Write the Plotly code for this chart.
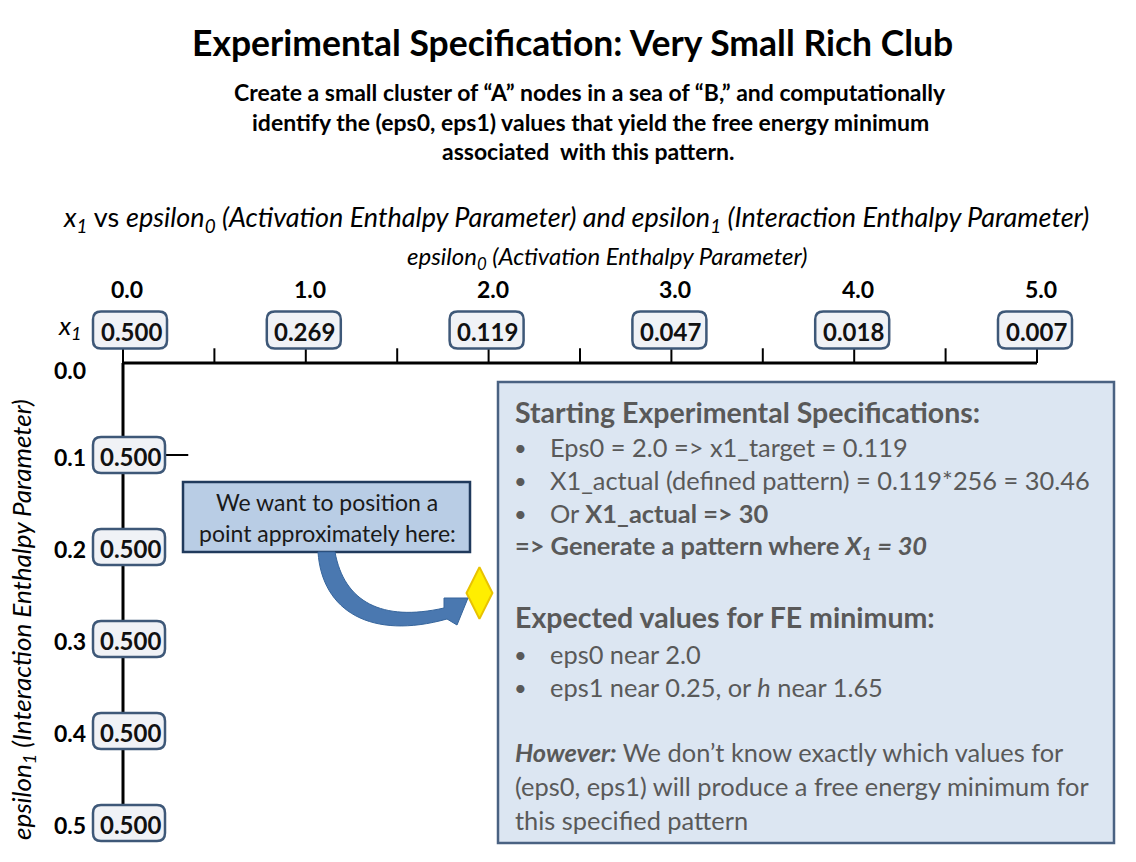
import plotly.graph_objects as go

# data
eps0_ticks = [0.0, 1.0, 2.0, 3.0, 4.0, 5.0]
x1_at_eps0 = [0.500, 0.269, 0.119, 0.047, 0.018, 0.007]
eps0_minor = [0.5, 1.5, 2.5, 3.5, 4.5]
eps1_ticks = [0.0, 0.1, 0.2, 0.3, 0.4, 0.5]
eps1_boxes = [0.1, 0.2, 0.3, 0.4, 0.5]
x1_at_eps1 = [0.500, 0.500, 0.500, 0.500, 0.500]
target_eps0 = [1.95]
target_eps1 = [0.25]

# canvas / scale set-up (pixels)
W, H = 1136, 862
X0_PX, X_SCALE = 123, 182.8   # eps0 = 0 at x pixel 123
Y0_PX, Y_SCALE = 363, 920     # eps1 = 0 at y pixel 363 (downwards)

FONT = "Lato"
BOX_LINE = "#3e5878"
BOX_FILL = "#f0f2f6"
GREY = "#595959"


def px(x):
    return x / W


def py(y):
    return 1 - y / H


def rrect(cx, cy, w, h, r):
    x0, x1 = cx - w / 2, cx + w / 2
    y0, y1 = cy - h / 2, cy + h / 2
    return (f"M {x0 + r},{y0} L {x1 - r},{y0} Q {x1},{y0} {x1},{y0 + r} "
            f"L {x1},{y1 - r} Q {x1},{y1} {x1 - r},{y1} L {x0 + r},{y1} "
            f"Q {x0},{y1} {x0},{y1 - r} L {x0},{y0 + r} Q {x0},{y0} {x0 + r},{y0} Z")


def text(x, y, s, size, color="black", xanchor="center", **kw):
    d = dict(x=px(x), y=py(y), xref="paper", yref="paper", text=s, showarrow=False,
             xanchor=xanchor, yanchor="middle", font=dict(family=FONT, size=size, color=color))
    d.update(kw)
    return d


fig = go.Figure()

# horizontal epsilon0 axis
fig.add_trace(go.Scatter(x=[eps0_ticks[0], eps0_ticks[-1]], y=[0, 0], mode="lines",
                         line=dict(color="black", width=3), hoverinfo="skip", showlegend=False))
tx, ty = [], []
for v in eps0_ticks + eps0_minor:
    tx += [v, v, None]
    ty += [0, -0.016, None]
fig.add_trace(go.Scatter(x=tx, y=ty, mode="lines", line=dict(color="black", width=2),
                         hoverinfo="skip", showlegend=False))

# vertical epsilon1 axis
fig.add_trace(go.Scatter(x=[0, 0], y=[eps1_ticks[0], eps1_ticks[-1]], mode="lines",
                         line=dict(color="black", width=3), hoverinfo="skip", showlegend=False))
fig.add_trace(go.Scatter(x=[0, 0.357], y=[eps1_boxes[0], eps1_boxes[0]], mode="lines",
                         line=dict(color="black", width=2), hoverinfo="skip", showlegend=False))

# target point
fig.add_trace(go.Scatter(x=target_eps0, y=target_eps1, mode="markers",
                         marker=dict(symbol="diamond-tall", size=37, color="#ffee00",
                                     line=dict(color="#e8c200", width=2)),
                         hoverinfo="skip", showlegend=False))

shapes = []
annotations = []

# x1 boxes along epsilon0
for v, x1 in zip(eps0_ticks, x1_at_eps0):
    dx = 7 if v == 0 else -2
    shapes.append(dict(type="path", xref="x", yref="y", xsizemode="pixel", ysizemode="pixel",
                       xanchor=v, yanchor=0, path=rrect(dx, 33, 74, 37, 8),
                       fillcolor=BOX_FILL, line=dict(color=BOX_LINE, width=2.5), layer="above"))
    annotations.append(dict(x=v, y=0, xref="x", yref="y", xshift=dx + 1, yshift=32,
                            xanchor="center", yanchor="middle",
                            text=f"<b>{x1:.3f}</b>", showarrow=False,
                            font=dict(family=FONT, size=24, color="#111111")))
    annotations.append(dict(x=v, y=0, xref="x", yref="y", xshift=4, yshift=74,
                            xanchor="center", yanchor="middle",
                            text=f"<b>{v:.1f}</b>", showarrow=False,
                            font=dict(family=FONT, size=23, color="black")))

# x1 boxes along epsilon1
for v, x1 in zip(eps1_boxes, x1_at_eps1):
    shapes.append(dict(type="path", xref="x", yref="y", xsizemode="pixel", ysizemode="pixel",
                       xanchor=0, yanchor=v, path=rrect(6, 0, 72, 36, 8),
                       fillcolor=BOX_FILL, line=dict(color=BOX_LINE, width=2.5), layer="above"))
    annotations.append(dict(x=0, y=v, xref="x", yref="y", xshift=7, yshift=-1,
                            xanchor="center", yanchor="middle",
                            text=f"<b>{x1:.3f}</b>", showarrow=False,
                            font=dict(family=FONT, size=24, color="#111111")))
for v in eps1_ticks:
    annotations.append(dict(x=0, y=v, xref="x", yref="y", xshift=-35, yshift=-7 if v == 0 else -2,
                            xanchor="right", yanchor="middle", text=f"<b>{v:.1f}</b>",
                            showarrow=False, font=dict(family=FONT, size=23, color="black")))

# callout box
shapes.append(dict(type="rect", xref="paper", yref="paper", x0=px(183), x1=px(470),
                   y0=py(552), y1=py(482), fillcolor="#b9cde5",
                   line=dict(color="#203a5c", width=2.5), layer="above"))
annotations.append(text(327, 502, "We want to position a", 23, "#1a1a1a"))
annotations.append(text(327, 533, "point approximately here:", 23, "#1a1a1a"))

# curved arrow
ap = [(318, 552), (322, 612), (372, 640), (447, 619), (457, 625), (468, 598), (444, 598),
      (444, 608), (382, 622), (344, 602), (335, 552)]
p = [(px(a), py(b)) for a, b in ap]
arrow_path = (f"M {p[0][0]},{p[0][1]} C {p[1][0]},{p[1][1]} {p[2][0]},{p[2][1]} {p[3][0]},{p[3][1]} "
              f"L {p[4][0]},{p[4][1]} L {p[5][0]},{p[5][1]} L {p[6][0]},{p[6][1]} L {p[7][0]},{p[7][1]} "
              f"C {p[8][0]},{p[8][1]} {p[9][0]},{p[9][1]} {p[10][0]},{p[10][1]} Z")
shapes.append(dict(type="path", xref="paper", yref="paper", path=arrow_path,
                   fillcolor="#4a78b0", line=dict(color="#36659c", width=1), layer="above"))

# info box
shapes.append(dict(type="rect", xref="paper", yref="paper", x0=px(498), x1=px(1114),
                   y0=py(843), y1=py(382), fillcolor="#dce6f2",
                   line=dict(color="#4a6282", width=2.5), layer="above"))

info_lines = [
    (412, 513, "<b>Starting Experimental Specifications:</b>", 28.5, False),
    (447, 548, "Eps0 = 2.0 => x1_target = 0.119", 25.4, True),
    (480, 548, "X1_actual (defined pattern) = 0.119*256 = 30.46", 25.4, True),
    (513, 548, "Or <b>X1_actual => 30</b>", 25.4, True),
    (547, 513, "<b>=> Generate a pattern where <i>X<sub>1</sub> = 30</i></b>", 25.4, False),
    (617, 513, "<b>Expected values for FE minimum:</b>", 28.5, False),
    (654, 548, "eps0 near 2.0", 25.4, True),
    (687, 548, "eps1 near 0.25, or <i>h</i> near 1.65", 25.4, True),
    (752, 513, "<b><i>However:</i></b> We don’t know exactly which values for", 25.4, False),
    (786, 513, "(eps0, eps1) will produce a free energy minimum for", 25.4, False),
    (820, 513, "this specified pattern", 25.4, False),
]
for yy, xx, txt, size, bullet in info_lines:
    annotations.append(text(xx, yy, txt, size, GREY, xanchor="left"))
    if bullet:
        annotations.append(text(520, yy, "•", 22, GREY))

# titles
annotations += [
    text(572, 42, "<b>Experimental Specification: Very Small Rich Club</b>", 35.5),
    text(590, 92, "<b>Create a small cluster of “A” nodes in a sea of “B,” and computationally</b>", 23),
    text(590, 122, "<b>identify the (eps0, eps1) values that yield the free energy minimum</b>", 23),
    text(588, 151, "<b>associated  with this pattern.</b>", 23),
    text(576, 218, "<i>x<sub>1</sub></i> vs <i>epsilon<sub>0</sub> (Activation Enthalpy Parameter) and "
                   "epsilon<sub>1</sub> (Interaction Enthalpy Parameter)</i>", 27),
    text(607, 257, "<i>epsilon<sub>0</sub> (Activation Enthalpy Parameter)</i>", 24),
    text(70, 326, "<i>x<sub>1</sub></i>", 26),
    text(22, 620, "<i>epsilon<sub>1</sub> (Interaction Enthalpy Parameter)</i>", 26, textangle=-90),
]

fig.update_layout(
    width=W, height=H, autosize=False,
    margin=dict(l=0, r=0, t=0, b=0),
    paper_bgcolor="white", plot_bgcolor="white",
    xaxis=dict(range=[-X0_PX / X_SCALE, (W - X0_PX) / X_SCALE], visible=False, fixedrange=True),
    yaxis=dict(range=[(H - Y0_PX) / Y_SCALE, -Y0_PX / Y_SCALE], visible=False, fixedrange=True),
    shapes=shapes,
    annotations=annotations,
)

fig.write_html("out.html", config={"displayModeBar": False},
               post_script="document.body.style.margin='0';")
